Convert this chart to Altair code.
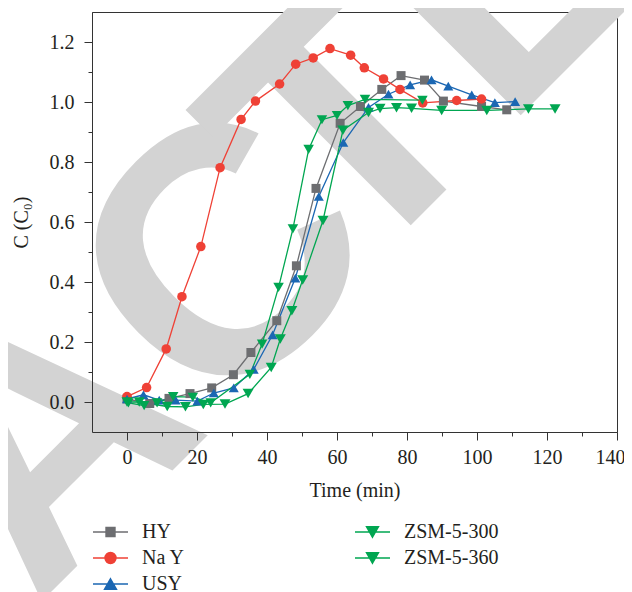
import altair as alt
import pandas as pd

# ---------------- data ----------------
series_names = ["HY", "Na Y", "USY", "ZSM-5-300", "ZSM-5-360"]
series_colors = ["#6d6e71", "#ef4136", "#1b67b3", "#00a651", "#00a651"]
series_shapes = ["square", "circle", "triangle-up", "triangle-down", "triangle-down"]
series_sizes = [81, 121, 144, 144, 144]

hy_t = [0, 6.5, 12, 18, 24.2, 30.4, 35.4, 42.8, 48.4, 54.0, 60.9, 66.7, 72.8, 78.3, 85.0, 90.4, 101.3, 108.5]
hy_c = [0.010, -0.005, 0.012, 0.028, 0.047, 0.091, 0.165, 0.271, 0.454, 0.712, 0.929, 0.985, 1.042, 1.088, 1.073, 1.003, 0.985, 0.974]

nay_t = [0, 5.6, 11.2, 15.7, 21.1, 26.6, 32.6, 36.7, 43.6, 48.2, 53.2, 58.0, 63.9, 67.8, 73.3, 78.0, 84.5, 94.2, 101.3]
nay_c = [0.018, 0.048, 0.177, 0.351, 0.518, 0.781, 0.942, 1.003, 1.060, 1.126, 1.147, 1.178, 1.156, 1.114, 1.077, 1.042, 0.997, 1.005, 1.010]

usy_t = [0, 4.7, 9.2, 13.9, 20.1, 24.8, 30.5, 36.2, 41.6, 48.1, 54.8, 61.8, 69.0, 74.7, 80.9, 87.0, 91.8, 98.5, 105.1, 110.9]
usy_c = [0.010, 0.024, 0.006, 0.006, 0.003, 0.030, 0.047, 0.109, 0.224, 0.413, 0.685, 0.865, 0.982, 1.026, 1.057, 1.074, 1.053, 1.024, 0.998, 1.001]

z300_t = [0.4, 4.9, 8.6, 13.2, 18.8, 23.9, 35.1, 38.6, 43.3, 47.4, 51.9, 55.7, 60.0, 63.1, 68.0, 84.4]
z300_c = [-0.003, -0.012, -0.003, 0.018, 0.016, -0.003, 0.092, 0.193, 0.382, 0.577, 0.842, 0.941, 0.955, 0.988, 1.009, 1.006]

z360_t = [0.0, 3.5, 11.5, 16.7, 21.8, 28.0, 34.6, 41.2, 43.8, 47.1, 50.2, 56.0, 61.7, 69.0, 72.3, 77.0, 81.3, 89.9, 102.8, 114.7, 122.3]
z360_c = [0.000, 0.000, -0.015, -0.016, -0.008, -0.007, 0.028, 0.115, 0.210, 0.304, 0.407, 0.605, 0.906, 0.965, 0.978, 0.981, 0.979, 0.972, 0.972, 0.977, 0.977]

# major ticks every 20 min / 0.2, minor ticks halfway between
x_ticks = [0, 10, 20, 30, 40, 50, 60, 70, 80, 90, 100, 110, 120, 130, 140]
y_ticks = [0.0, 0.1, 0.2, 0.3, 0.4, 0.5, 0.6, 0.7, 0.8, 0.9, 1.0, 1.1, 1.2]

# background retraction stamp, split in two pieces
watermark_head = ["RETRAC"]
watermark_tail = ["TED"]

# legend symbols: a line with the marker on it
legend_a = ["HY", "Na Y", "USY"]
legend_a_colors = ["#6d6e71", "#ef4136", "#1b67b3"]
legend_a_paths = [
    "M-1,0H1M-0.257,-0.257H0.257V0.257H-0.257Z",
    "M-1,0H1M-0.314,0A0.314,0.314,0,1,0,0.314,0A0.314,0.314,0,1,0,-0.314,0Z",
    "M-1,0H1M0,-0.3L0.343,0.297L-0.343,0.297Z",
]
legend_b = ["ZSM-5-300", "ZSM-5-360"]
legend_b_colors = ["#00a651", "#00a651"]
legend_b_paths = [
    "M-1,0H1M0,0.3L0.343,-0.297L-0.343,-0.297Z",
    "M-1,0H1M0,0.3L0.343,-0.297L-0.343,-0.297Z",
]

# ---------------- build table ----------------
rows = []
for name, ts, cs in [("HY", hy_t, hy_c), ("Na Y", nay_t, nay_c), ("USY", usy_t, usy_c),
                     ("ZSM-5-300", z300_t, z300_c), ("ZSM-5-360", z360_t, z360_c)]:
    for t, c in zip(ts, cs):
        rows.append({"series": name, "t": t, "c": c})
df = pd.DataFrame(rows)

FONT = "Liberation Serif"
AX = "#333333"
TXT = "#231f20"

x_major_test = "round(datum.value) % 20 === 0"
y_major_test = "round(datum.value * 10) % 2 === 0"

x_axis = alt.Axis(
    orient="bottom", values=x_ticks, format="d", title="Time (min)", grid=False,
    labelExpr=f"{x_major_test} ? datum.label : ''",
    tickSize={"condition": {"test": x_major_test, "value": 8}, "value": 4},
    labelOffset={"condition": {"test": "datum.value >= 140", "value": -7}, "value": 0},
    tickColor=AX, domainColor=AX, labelFont=FONT, labelFontSize=20,
    labelColor=TXT, labelPadding=7, labelFlush=False, labelOverlap=False,
    titleFont=FONT, titleFontSize=20, titleFontWeight="normal", titleColor=TXT,
    titlePadding=13, zindex=1)
y_axis = alt.Axis(
    orient="left", values=y_ticks, format=".1f", title="C (C₀)", grid=False,
    labelExpr=f"{y_major_test} ? datum.label : ''",
    tickSize={"condition": {"test": y_major_test, "value": 8}, "value": 4},
    tickColor=AX, domainColor=AX, labelFont=FONT, labelFontSize=20,
    labelColor=TXT, labelPadding=10, labelOverlap=False,
    titleFont=FONT, titleFontSize=20, titleFontWeight="normal", titleColor=TXT,
    titlePadding=18, zindex=1)

x_enc = alt.X("t:Q", scale=alt.Scale(domain=[-10, 140], nice=False, zero=False), axis=x_axis)
y_enc = alt.Y("c:Q", scale=alt.Scale(domain=[-0.1, 1.3], nice=False, zero=False), axis=y_axis)

color = alt.Color("series:N", scale=alt.Scale(domain=series_names, range=series_colors), legend=None)

wm_style = dict(angle=315, font="Liberation Sans", fontWeight="bold", fontSize=350,
                color="#d3d3d3", baseline="alphabetic")
wm1 = alt.Chart(pd.DataFrame({"w": watermark_head})).mark_text(align="right", **wm_style).encode(
    x=alt.value(301), y=alt.value(238), text="w:N")
wm2 = alt.Chart(pd.DataFrame({"w": watermark_tail})).mark_text(align="left", **wm_style).encode(
    x=alt.value(261), y=alt.value(271), text="w:N")

lines = alt.Chart(df).mark_line(strokeWidth=1.3).encode(
    x=x_enc, y=y_enc, color=color, detail="series:N")

points = alt.Chart(df).mark_point(filled=True, opacity=1, strokeWidth=0).encode(
    x=x_enc, y=y_enc, color=color,
    shape=alt.Shape("series:N", scale=alt.Scale(domain=series_names, range=series_shapes), legend=None),
    size=alt.Size("series:N", scale=alt.Scale(domain=series_names, range=series_sizes), legend=None))


def legend_layer(names, cols, paths, lx):
    lg = alt.Legend(title=None, orient="none", legendX=lx, legendY=507, symbolSize=1225,
                    symbolStrokeWidth=1.4, labelFont=FONT, labelFontSize=20, labelColor=TXT,
                    labelOffset=13, clipHeight=26, rowPadding=0, padding=0)
    return alt.Chart(df).transform_filter("false").mark_point(
        size=1225, opacity=1, strokeWidth=1.4, filled=True
    ).encode(
        fill=alt.Fill("series:N", scale=alt.Scale(domain=names, range=cols), legend=lg),
        stroke=alt.Stroke("series:N", scale=alt.Scale(domain=names, range=cols), legend=lg),
        shape=alt.Shape("series:N", scale=alt.Scale(domain=names, range=paths), legend=lg),
    )


leg1 = legend_layer(legend_a, legend_a_colors, legend_a_paths, 0)
leg2 = legend_layer(legend_b, legend_b_colors, legend_b_paths, 262)

chart = alt.layer(wm1, wm2, lines, points, leg1, leg2).resolve_scale(
    shape="independent", fill="independent", stroke="independent"
).properties(
    width=525, height=420, autosize="none",
    padding={"left": 84, "top": 4, "right": 7, "bottom": 160}
).configure_view(stroke=AX, strokeWidth=1)

chart.save("out.html", embed_options={"renderer": "svg", "actions": False})
